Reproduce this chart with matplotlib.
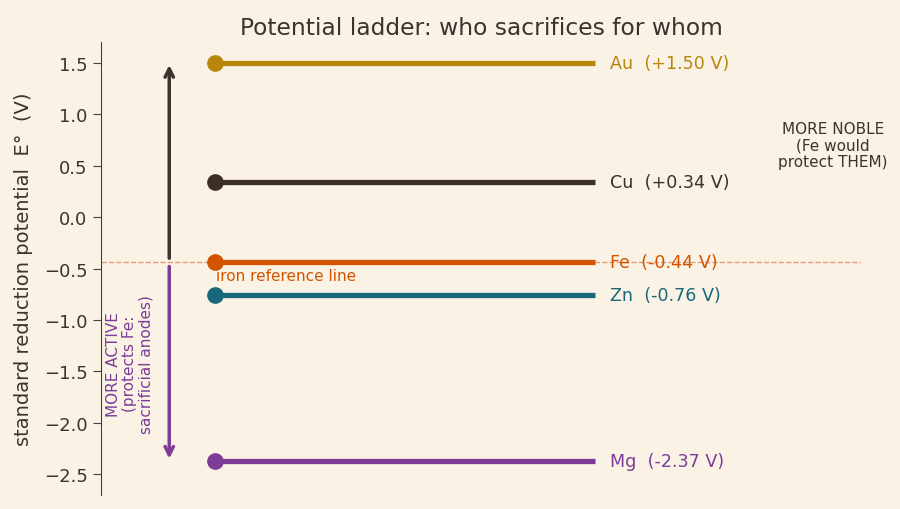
import matplotlib
matplotlib.use("Agg")
import matplotlib.pyplot as plt

metals = ["Au", "Cu", "Fe", "Zn", "Mg"]
potentials = [1.50, 0.34, -0.44, -0.76, -2.37]
colors = ["#b8860b", "#3b2f26", "#d35400", "#17697a", "#7d3c98"]
fe_ref = -0.44

bg = "#faf2e4"
ink = "#3a3330"

fig, ax = plt.subplots(figsize=(9, 5.1), dpi=100)
fig.patch.set_facecolor(bg)
ax.set_facecolor(bg)
fig.subplots_adjust(left=0.112, right=0.957, top=0.915, bottom=0.028)

ax.set_xlim(0, 1)
ax.set_ylim(-2.7, 1.7)

ax.axhline(fe_ref, color="#e0956a", lw=1, ls="--", alpha=0.9, zorder=1)

for m, v, c in zip(metals, potentials, colors):
    ax.plot([0.15, 0.65], [v, v], color=c, lw=3.8, solid_capstyle="butt", zorder=3)
    ax.plot([0.15], [v], "o", color=c, ms=11, zorder=4)
    ax.text(0.67, v, f"{m}  ({v:+.2f} V)" if v > 0 else f"{m}  ({v:.2f} V)",
            color=c, fontsize=12.6, va="center", ha="left")

ax.text(0.152, fe_ref - 0.05, "iron reference line", color="#d35400",
        fontsize=11, va="top", ha="left")

ax.annotate("", xy=(0.09, 1.48), xytext=(0.09, -0.40),
            arrowprops=dict(arrowstyle="->", color=ink, lw=2.5,
                            mutation_scale=15, shrinkA=0, shrinkB=0))
ax.annotate("", xy=(0.09, -2.35), xytext=(0.09, -0.48),
            arrowprops=dict(arrowstyle="->", color="#7d3c98", lw=2.5,
                            mutation_scale=15, shrinkA=0, shrinkB=0))

ax.text(0.963, 0.70, "MORE NOBLE\n(Fe would\nprotect THEM)", color=ink,
        fontsize=11, ha="center", va="center", linespacing=1.1)
ax.text(0.038, -1.42, "MORE ACTIVE\n(protects Fe:\nsacrificial anodes)",
        color="#7d3c98", fontsize=11, ha="center", va="center",
        rotation=90, linespacing=1.1)

ax.set_yticks([1.5, 1.0, 0.5, 0.0, -0.5, -1.0, -1.5, -2.0, -2.5])
ax.set_xticks([])
for s in ["top", "right", "bottom"]:
    ax.spines[s].set_visible(False)
ax.spines["left"].set_color("#4a4038")
ax.tick_params(axis="y", colors="#4a4038", labelcolor=ink, labelsize=13, length=6)
ax.set_ylabel("standard reduction potential  E°  (V)", fontsize=14, color=ink, labelpad=8)
ax.set_title("Potential ladder: who sacrifices for whom", fontsize=16.8, color=ink)

fig.savefig("out.png", dpi=100, facecolor=bg)
